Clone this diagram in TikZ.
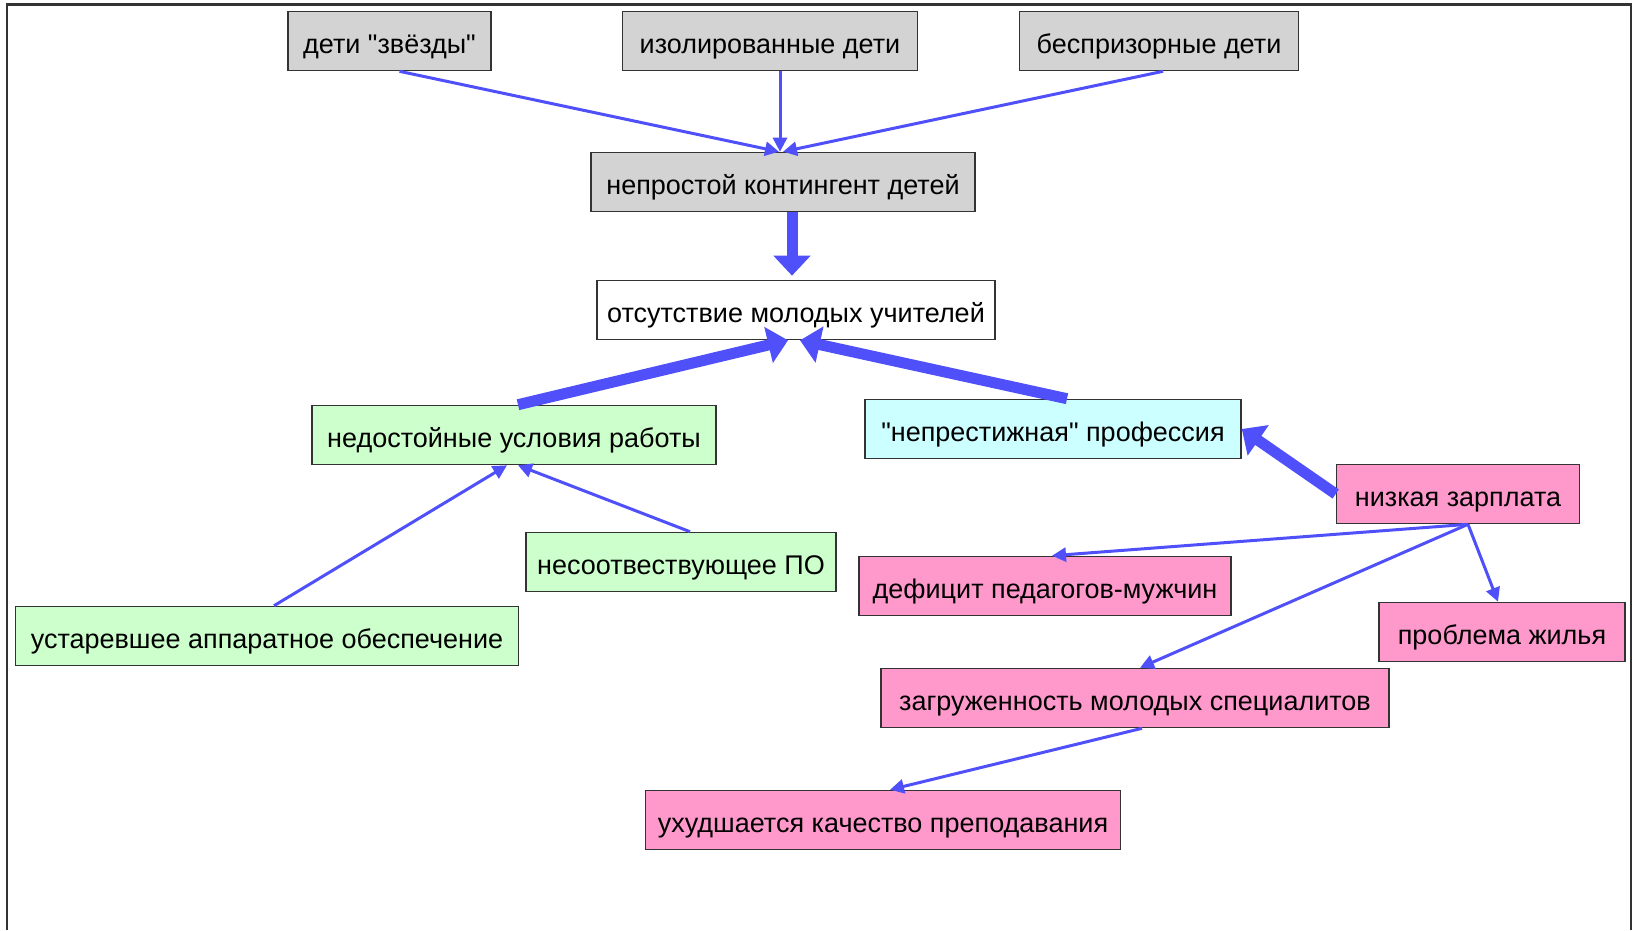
\documentclass[tikz,border=0pt]{standalone}
\usepackage{fontspec}
\setmainfont{Liberation Sans}[Ligatures=TeXOff]
\usepackage{xcolor}
\usepackage{tikz}
\usetikzlibrary{arrows.meta}

\definecolor{boxgray}{RGB}{211,211,211}
\definecolor{boxgreen}{RGB}{204,255,204}
\definecolor{boxcyan}{RGB}{204,255,255}
\definecolor{boxpink}{RGB}{255,153,204}
\definecolor{linkblue}{RGB}{80,80,250}

\begin{document}
\begin{tikzpicture}[
  x=1pt, y=-1pt,
  box/.style={draw=black!80, line width=1.6pt, minimum height=59pt, inner sep=0pt, align=center,
    text height=28pt, text depth=4pt, font=\fontsize{27}{31}\selectfont},
  grey/.style={box, fill=boxgray},
  green/.style={box, fill=boxgreen},
  cyan/.style={box, fill=boxcyan},
  pink/.style={box, fill=boxpink},
  plain/.style={box, fill=white},
  arrow/.style={-{Triangle[width=14pt,length=14pt]}, line width=3pt, linkblue},
  bigarrow/.style={-{Triangle[width=36pt,length=20pt]}, line width=11pt, linkblue}
]
\useasboundingbox (0,0) rectangle (1633,930);
\draw[line width=2.4pt, black!80] (7,930) -- (7,4.5) -- (1631,4.5) -- (1631,930);

\node[grey, minimum width=203pt] (stars) at (389.5,41) {дети "звёзды"};
\node[grey, minimum width=295pt] (isolated) at (770,41) {изолированные дети};
\node[grey, minimum width=279pt] (homeless) at (1159,41) {беспризорные дети};
\node[grey, minimum width=384pt] (contingent) at (783,182) {непростой контингент детей};
\node[plain, minimum width=398pt] (absence) at (796,310) {отсутствие молодых учителей};
\node[green, minimum width=404pt] (conditions) at (514,435) {недостойные условия работы};
\node[cyan, minimum width=376pt] (prestige) at (1053,429) {"непрестижная" профессия};
\node[pink, minimum width=243pt] (salary) at (1458,494) {низкая зарплата};
\node[green, minimum width=310pt] (software) at (681,562) {несоотвествующее ПО};
\node[pink, minimum width=372pt] (deficit) at (1045,586) {дефицит педагогов-мужчин};
\node[green, minimum width=503pt] (hardware) at (267,636) {устаревшее аппаратное обеспечение};
\node[pink, minimum width=246pt] (housing) at (1502,632) {проблема жилья};
\node[pink, minimum width=508pt] (workload) at (1135,698) {загруженность молодых специалитов};
\node[pink, minimum width=475pt] (quality) at (883,820) {ухудшается качество преподавания};

\draw[arrow] ([xshift=10pt]stars.south) -- ([xshift=-4pt]contingent.north);
\draw[arrow] ([xshift=10pt]isolated.south) -- ([xshift=-3pt]contingent.north);
\draw[arrow] ([xshift=4pt]homeless.south) -- (contingent.north);
\draw[bigarrow] ([xshift=9pt]contingent.south) -- ([xshift=-4pt,yshift=4pt]absence.north);
\draw[bigarrow] ([xshift=4pt]conditions.north) -- ([xshift=-8pt]absence.south);
\draw[bigarrow] ([xshift=14pt]prestige.north) -- ([xshift=4pt]absence.south);
\draw[bigarrow] (salary.west) -- (prestige.east);
\draw[arrow] ([xshift=10pt]salary.south) -- ([xshift=7pt]deficit.north);
\draw[arrow] ([xshift=10pt]salary.south) -- ([xshift=-4pt]housing.north);
\draw[arrow] ([xshift=10pt]salary.south) -- ([xshift=5pt]workload.north);
\draw[arrow] ([xshift=7pt]workload.south) -- ([xshift=7pt]quality.north);
\draw[arrow] ([xshift=7pt]hardware.north) -- ([xshift=-7pt]conditions.south);
\draw[arrow] ([xshift=9pt]software.north) -- ([xshift=4pt]conditions.south);
\end{tikzpicture}
\end{document}
